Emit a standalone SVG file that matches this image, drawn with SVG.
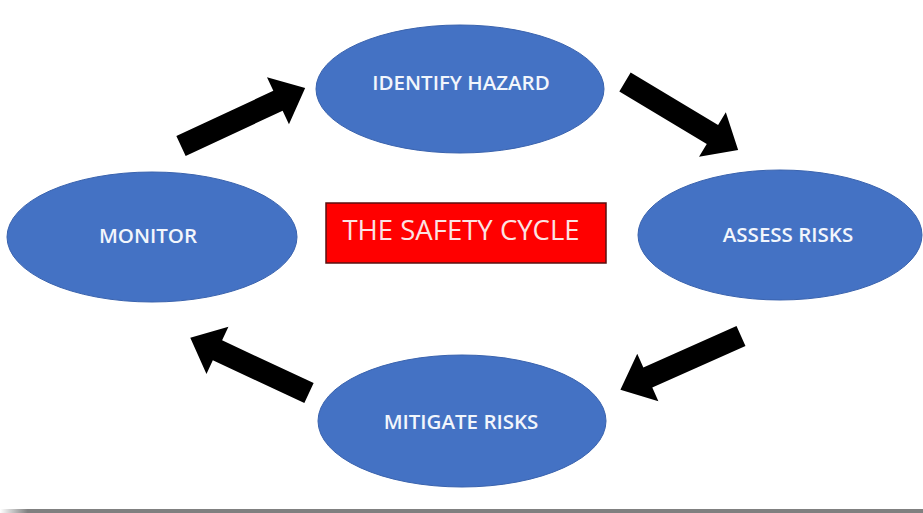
<svg xmlns="http://www.w3.org/2000/svg" width="923" height="513" viewBox="0 0 923 513">
<style>
.node ellipse{fill:#4472C4;stroke:#3A63AE;stroke-width:1}
.lbl{fill:#F2F6FC;font-family:"Open Sans","Liberation Sans",sans-serif;font-size:20.5px;font-weight:600;text-anchor:middle;dominant-baseline:central}
.title{fill:#FBE3E3;font-family:"Open Sans","Liberation Sans",sans-serif;font-size:27.5px;text-anchor:middle;dominant-baseline:central}
.arrow{fill:#000000}
</style>
<defs>
<linearGradient id="bar" x1="0" x2="1" y1="0" y2="0">
<stop offset="0" stop-color="#FFFFFF"/>
<stop offset="0.03" stop-color="#808080"/>
<stop offset="1" stop-color="#808080"/>
</linearGradient>
</defs>
<rect width="923" height="513" fill="#FFFFFF"/>
<rect x="0" y="509" width="923" height="4" fill="url(#bar)"/>
<g id="connectors">
<polygon class="arrow" transform="translate(181,146) rotate(-25)" points="0,-11 107,-11 107,-26 137,0 107,26 107,11 0,11"/>
<polygon class="arrow" transform="translate(625,82) rotate(31)" points="0,-11 102,-11 102,-26 132,0 102,26 102,11 0,11"/>
<polygon class="arrow" transform="translate(741,336) rotate(156)" points="0,-11 102,-11 102,-26 132,0 102,26 102,11 0,11"/>
<polygon class="arrow" transform="translate(309,393) rotate(205)" points="0,-11 101,-11 101,-26 131,0 101,26 101,11 0,11"/>
</g>
<g id="identify" class="node">
<ellipse cx="460" cy="89" rx="144" ry="64"/>
<text class="lbl" x="461" y="82">IDENTIFY HAZARD</text>
</g>
<g id="assess" class="node">
<ellipse cx="780" cy="235" rx="142" ry="65"/>
<text class="lbl" x="788" y="234">ASSESS RISKS</text>
</g>
<g id="mitigate" class="node">
<ellipse cx="462" cy="421" rx="144" ry="66"/>
<text class="lbl" x="461" y="421">MITIGATE RISKS</text>
</g>
<g id="monitor" class="node">
<ellipse cx="152" cy="237" rx="145" ry="65"/>
<text class="lbl" x="148" y="235">MONITOR</text>
</g>
<g id="title">
<rect x="326" y="203" width="280" height="60" fill="#FF0000" stroke="#5A1010" stroke-width="1.5"/>
<text class="title" x="461" y="229">THE SAFETY CYCLE</text>
</g>
</svg>
